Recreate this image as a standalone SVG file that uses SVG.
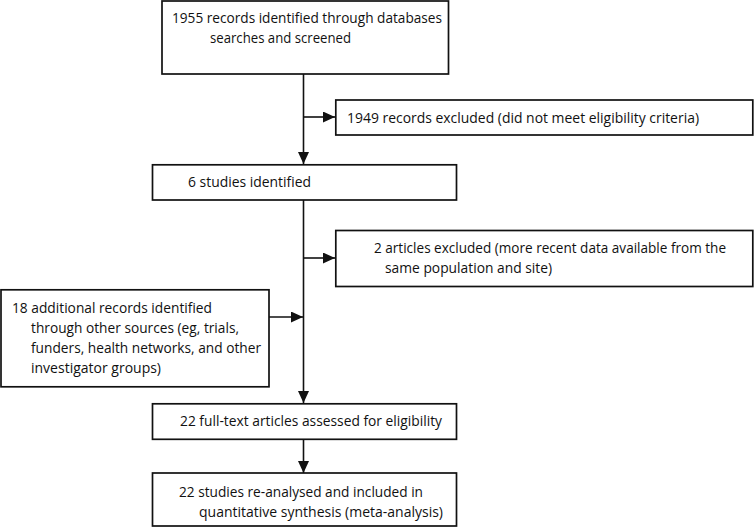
<svg xmlns="http://www.w3.org/2000/svg" width="754" height="527" viewBox="0 0 754 527">
<style>
.box{fill:#fff;stroke:#111;stroke-width:1.7}
.t{font-family:"Open Sans","Noto Sans",sans-serif;font-size:15px;fill:#111}
.c{stroke:#111;stroke-width:1.6;fill:none}
</style>
<defs>
<marker id="ah" markerUnits="userSpaceOnUse" markerWidth="12" markerHeight="11" refX="12" refY="5.5" orient="auto">
<path d="M0,0 L12,5.5 L0,11 Z" fill="#111"/>
</marker>
</defs>
<rect width="754" height="527" fill="#fff"/>
<g id="connectors">
<line class="c" x1="303.5" y1="74" x2="303.5" y2="164" marker-end="url(#ah)"/>
<line class="c" x1="303.5" y1="117" x2="335" y2="117" marker-end="url(#ah)"/>
<line class="c" x1="303.5" y1="200" x2="303.5" y2="403" marker-end="url(#ah)"/>
<line class="c" x1="303.5" y1="258" x2="335" y2="258" marker-end="url(#ah)"/>
<line class="c" x1="269" y1="317" x2="303" y2="317" marker-end="url(#ah)"/>
<line class="c" x1="303.5" y1="439" x2="303.5" y2="473" marker-end="url(#ah)"/>
</g>
<g id="n1">
<rect class="box" x="162" y="1" width="286.5" height="73"/>
<text class="t" x="172" y="23" textLength="270" lengthAdjust="spacingAndGlyphs">1955 records identified through databases</text>
<text class="t" x="210" y="43" textLength="141" lengthAdjust="spacingAndGlyphs">searches and screened</text>
</g>
<g id="n2">
<rect class="box" x="335.8" y="100" width="417" height="35"/>
<text class="t" x="347" y="123" textLength="352" lengthAdjust="spacingAndGlyphs">1949 records excluded (did not meet eligibility criteria)</text>
</g>
<g id="n3">
<rect class="box" x="152.5" y="164.8" width="304" height="35.2"/>
<text class="t" x="188" y="187" textLength="123" lengthAdjust="spacingAndGlyphs">6 studies identified</text>
</g>
<g id="n4">
<rect class="box" x="335.8" y="230.5" width="417" height="56"/>
<text class="t" x="374" y="253" textLength="352" lengthAdjust="spacingAndGlyphs">2 articles excluded (more recent data available from the</text>
<text class="t" x="385" y="273" textLength="167" lengthAdjust="spacingAndGlyphs">same population and site)</text>
</g>
<g id="n5">
<rect class="box" x="1" y="289.8" width="268" height="97"/>
<text class="t" x="12" y="312.5" textLength="200" lengthAdjust="spacingAndGlyphs">18 additional records identified</text>
<text class="t" x="31" y="332.5" textLength="208" lengthAdjust="spacingAndGlyphs">through other sources (eg, trials,</text>
<text class="t" x="31" y="352.5" textLength="230" lengthAdjust="spacingAndGlyphs">funders, health networks, and other</text>
<text class="t" x="31" y="372.5" textLength="130" lengthAdjust="spacingAndGlyphs">investigator groups)</text>
</g>
<g id="n6">
<rect class="box" x="152.5" y="403.8" width="304" height="35.5"/>
<text class="t" x="180" y="426" textLength="262" lengthAdjust="spacingAndGlyphs">22 full-text articles assessed for eligibility</text>
</g>
<g id="n7">
<rect class="box" x="152.5" y="473" width="304" height="53"/>
<text class="t" x="179" y="496.5" textLength="244" lengthAdjust="spacingAndGlyphs">22 studies re-analysed and included in</text>
<text class="t" x="199" y="516.5" textLength="244" lengthAdjust="spacingAndGlyphs">quantitative synthesis (meta-analysis)</text>
</g>
</svg>
